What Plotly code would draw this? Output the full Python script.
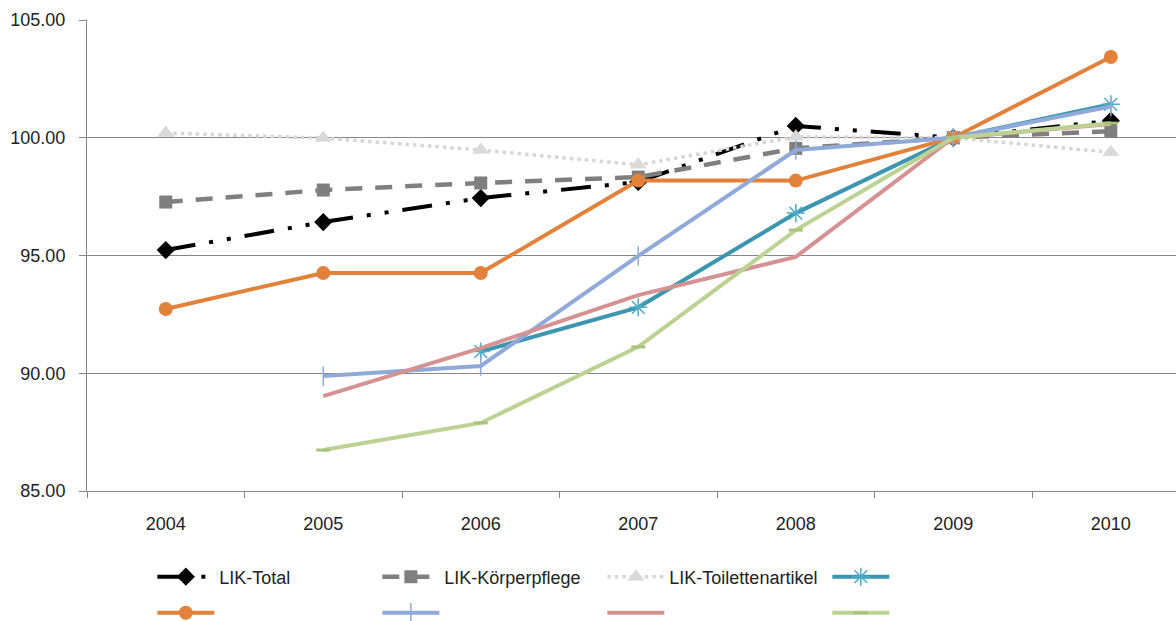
import plotly.graph_objects as go

# Landesindex der Konsumentenpreise (LIK), Index 2009 = 100
years = ["2004", "2005", "2006", "2007", "2008", "2009", "2010"]

lik_total = [95.23, 96.42, 97.44, 98.12, 100.50, 100.00, 100.72]
lik_koerperpflege = [97.27, 97.78, 98.08, 98.33, 99.55, 100.00, 100.28]
lik_toilettenartikel = [100.20, 99.99, 99.48, 98.85, 100.04, 100.00, 99.38]
teal_series = [None, None, 90.92, 92.80, 96.80, 100.00, 101.42]
orange_series = [92.73, 94.26, 94.26, 98.18, 98.18, 100.00, 103.43]
blue_series = [None, 89.88, 90.31, 94.98, 99.48, 100.00, 101.33]
pink_series = [None, 89.03, 91.07, 93.32, 94.94, 100.00, 100.58]
green_series = [None, 86.74, 87.89, 91.12, 96.08, 100.00, 100.62]

y_ticks = [85, 90, 95, 100, 105]

FONT = "Liberation Sans"
AXIS_GREY = "#868686"

fig = go.Figure()

# first legend row: named series
fig.add_trace(go.Scatter(
    x=years, y=lik_total, name="LIK-Total", mode="lines+markers",
    line=dict(color="#000000", width=4, dash="30px,14px,4px,14px,4px,14px"),
    marker=dict(symbol="diamond", size=14, color="#000000"),
    legend="legend",
))
fig.add_trace(go.Scatter(
    x=years, y=lik_koerperpflege, name="LIK-Körperpflege", mode="lines+markers",
    line=dict(color="#7F7F7F", width=4.5, dash="17px,13px"),
    marker=dict(symbol="square", size=13, color="#7F7F7F"),
    legend="legend",
))
fig.add_trace(go.Scatter(
    x=years, y=lik_toilettenartikel, name="LIK-Toilettenartikel", mode="lines+markers",
    line=dict(color="#D6D6D6", width=3.5, dash="3.5px,4px"),
    marker=dict(symbol="triangle-up", size=15, color="#D9D9D9"),
    legend="legend",
))
fig.add_trace(go.Scatter(
    x=years, y=teal_series, name=" ", mode="lines+markers",
    line=dict(color="#3C96B0", width=4),
    marker=dict(symbol="asterisk-open", size=15, color="#4BACC6",
                line=dict(width=1.5, color="#4BACC6")),
    legend="legend",
))

# second legend row: unnamed series
fig.add_trace(go.Scatter(
    x=years, y=orange_series, name=" ", mode="lines+markers",
    line=dict(color="#E2823A", width=4),
    marker=dict(symbol="circle", size=14, color="#E2823A"),
    legend="legend2",
))
fig.add_trace(go.Scatter(
    x=years, y=blue_series, name=" ", mode="lines+markers",
    line=dict(color="#8FAAD8", width=4),
    marker=dict(symbol="line-ns-open", size=14, color="#8FAAD8",
                line=dict(width=1.5, color="#8FAAD8")),
    legend="legend2",
))
fig.add_trace(go.Scatter(
    x=years, y=pink_series, name=" ", mode="lines",
    line=dict(color="#D59292", width=4),
    legend="legend2",
))
fig.add_trace(go.Scatter(
    x=years, y=green_series, name=" ", mode="lines+markers",
    line=dict(color="#BBD292", width=4),
    marker=dict(symbol="line-ew-open", size=10, color="#A9C47A",
                line=dict(width=3, color="#A9C47A")),
    legend="legend2",
))

legend_common = dict(
    orientation="h", xanchor="left", yanchor="middle",
    entrywidth=153, entrywidthmode="pixels", itemwidth=57,
    font=dict(family=FONT, size=18, color="#222222"),
    bgcolor="rgba(0,0,0,0)", traceorder="normal",
    itemclick=False, itemdoubleclick=False,
)

fig.update_layout(
    width=1176, height=621,
    margin=dict(l=87, r=0, t=20, b=130, autoexpand=False),
    paper_bgcolor="white", plot_bgcolor="white",
    font=dict(family=FONT, size=18, color="#222222"),
    showlegend=True,
    legend=dict(x=0.06, y=-0.1826, **legend_common),
    legend2=dict(x=0.06, y=-0.259, **legend_common),
    xaxis=dict(
        type="category", range=[-0.5, 6.414],
        showgrid=False, showline=True, linecolor=AXIS_GREY, linewidth=1,
        ticks="outside", tickson="boundaries", ticklen=6, tickcolor=AXIS_GREY,
        ticklabelstandoff=16, tickfont=dict(family=FONT, size=18, color="#222222"),
        fixedrange=True,
    ),
    yaxis=dict(
        range=[85, 105], tickvals=y_ticks, tickformat=".2f",
        showgrid=True, gridcolor=AXIS_GREY, gridwidth=1,
        showline=True, linecolor=AXIS_GREY, linewidth=1,
        ticks="outside", ticklen=7, tickcolor=AXIS_GREY,
        ticklabelstandoff=10, tickfont=dict(family=FONT, size=18, color="#222222"),
        zeroline=False, fixedrange=True,
    ),
)

fig.write_html("out.html")
